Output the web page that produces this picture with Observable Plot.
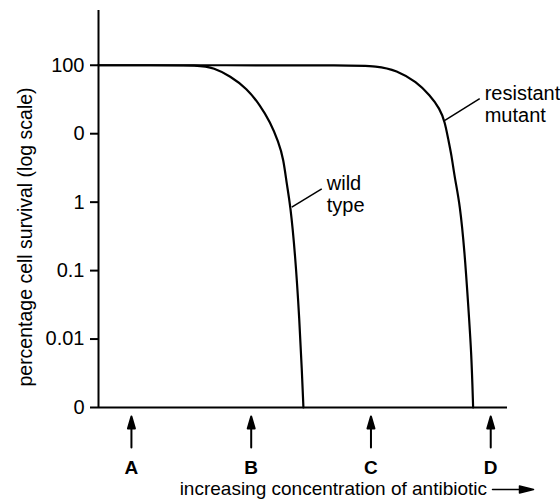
<!DOCTYPE html>
<html><head><meta charset="utf-8">
<script src="https://cdn.jsdelivr.net/npm/d3@7"></script>
<script src="https://cdn.jsdelivr.net/npm/@observablehq/plot@0.6"></script>
<style>body{margin:0;background:#fff} #chart svg{display:block}</style>
</head><body><div id="chart"></div>
<script>
// y positions are log-survival steps (0 = bottom, 5 = 100%)
const yTickValues = [0, 1, 2, 3, 4, 5];
const yTickLabels = ["0", "0.01", "0.1", "1", "0", "100"];
// antibiotic concentrations (A..D)
const concLabels = ["A", "B", "C", "D"];
const concValues = [1, 2, 3, 4];
// wild type curve
const wildX = [0.725, 1.158, 1.575, 1.686, 1.825, 1.964, 2.075, 2.158, 2.228, 2.269, 2.298, 2.325, 2.367, 2.403, 2.423, 2.436];
const wildY = [5.0, 5.0, 5.0, 4.961, 4.844, 4.659, 4.415, 4.171, 3.879, 3.636, 3.246, 2.982, 2.251, 1.272, 0.541, 0];
// resistant mutant curve
const mutX = [0.725, 1.8, 2.825, 3.048, 3.214, 3.381, 3.492, 3.575, 3.617, 3.644, 3.673, 3.7, 3.742, 3.783, 3.811, 3.839, 3.853];
const mutY = [5.0, 5.0, 5.0, 4.99, 4.927, 4.756, 4.561, 4.367, 4.171, 3.928, 3.684, 3.344, 2.982, 2.251, 1.52, 0.789, 0];
// curve labels with leader lines (start on curve, end near text)
const seriesNames = ["wild\ntype", "resistant\nmutant"];
const leaderX1 = [2.339, 3.617];
const leaderY1 = [2.926, 4.196];
const leaderX2 = [2.589, 3.908];
const leaderY2 = [3.195, 4.513];

const xDomain = [0.725, 4.14];
const yDomain = [0, 5.8];
const FONT = "'Liberation Sans', Arial, Helvetica, sans-serif";

const toRows = (xs, ys) => xs.map((x, i) => ({x, y: ys[i]}));
const wild = toRows(wildX, wildY);
const mut = toRows(mutX, mutY);
const labels = seriesNames.map((t, i) => ({t, x1: leaderX1[i], y1: leaderY1[i], x2: leaderX2[i], y2: leaderY2[i]}));
const conc = concValues.map((x, i) => ({x, t: concLabels[i]}));

const upArrow = {
  draw(ctx, l) {
    ctx.moveTo(0, 0);
    ctx.lineTo(0, -l + 10);
    ctx.moveTo(0, -l);
    ctx.lineTo(-3.5, -l + 12);
    ctx.lineTo(3.5, -l + 12);
    ctx.closePath();
  }
};
const titleArrow = {
  draw(ctx, l) {
    ctx.moveTo(0, 0);
    ctx.lineTo(0, -l + 10);
    ctx.moveTo(0, -l);
    ctx.lineTo(-3.5, -l + 14);
    ctx.lineTo(3.5, -l + 14);
    ctx.closePath();
  }
};

const chart = Plot.plot({
  width: 560,
  height: 502,
  marginLeft: 98,
  marginRight: 53,
  marginTop: 10,
  marginBottom: 95,
  style: {fontFamily: FONT, background: "#fff", color: "#000"},
  x: {domain: xDomain, axis: null},
  y: {domain: yDomain, axis: null},
  marks: [
    Plot.axisY({ticks: yTickValues, tickFormat: (d) => yTickLabels[d], tickSize: 8, tickPadding: 6, fontSize: 20, strokeWidth: 2, label: null}),
    Plot.ruleX([xDomain[0]], {strokeWidth: 2}),
    Plot.ruleY([0], {strokeWidth: 2}),
    Plot.line(wild, {x: "x", y: "y", curve: "basis", strokeWidth: 2.2}),
    Plot.line(mut, {x: "x", y: "y", curve: "basis", strokeWidth: 2.2}),
    Plot.link(labels, {x1: "x1", y1: "y1", x2: "x2", y2: "y2", strokeWidth: 1.5}),
    Plot.text(labels, {x: "x2", y: "y2", text: "t", textAnchor: "start", lineAnchor: "middle", dx: 5, dy: 5, fontSize: 20, lineHeight: 1.12}),
    Plot.vector(conc, {x: "x", frameAnchor: "bottom", dy: 40, length: 31, rotate: 0, anchor: "start", shape: upArrow, fill: "black", stroke: "black", strokeWidth: 2}),
    Plot.text(conc, {x: "x", text: "t", frameAnchor: "bottom", lineAnchor: "middle", dy: 60, fontSize: 19, fontWeight: "bold"}),
    Plot.text(["increasing concentration of antibiotic"], {frameAnchor: "bottom", textAnchor: "end", lineAnchor: "middle", dx: 184, dy: 81, fontSize: 19}),
    Plot.vector([0], {frameAnchor: "bottom", dx: 189.5, dy: 82, length: 41, rotate: 90, anchor: "start", shape: titleArrow, fill: "black", stroke: "black", strokeWidth: 1.5}),
    Plot.text(["percentage cell survival (log scale)"], {frameAnchor: "left", textAnchor: "middle", lineAnchor: "middle", rotate: -90, dx: -73, dy: 28, fontSize: 19.5})
  ]
});
document.getElementById("chart").append(chart);
</script>
</body></html>
